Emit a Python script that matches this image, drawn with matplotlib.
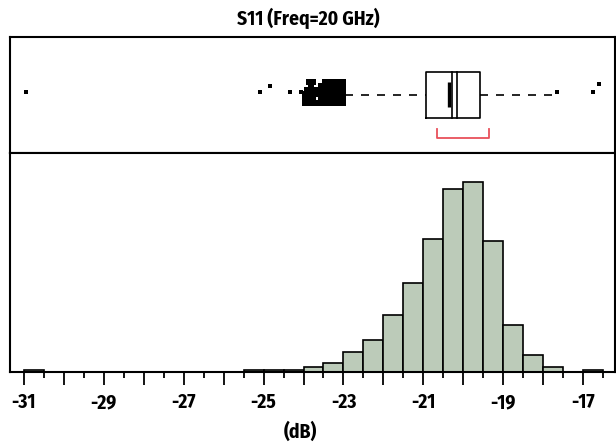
import matplotlib
matplotlib.use("Agg")
import matplotlib.pyplot as plt

plt.rcParams['font.family'] = ['Fira Sans Condensed', 'PT Sans Narrow', 'DejaVu Sans']
plt.rcParams['font.weight'] = 'bold'

# 直方图 (0.5 dB bins, left edges)
bin_left = [-31.0, -25.5, -25.0, -24.5, -24.0, -23.5, -23.0, -22.5, -22.0, -21.5,
            -21.0, -20.5, -20.0, -19.5, -19.0, -18.5, -18.0, -17.0]
counts = [3, 3, 3, 3, 6, 12, 26, 42, 76, 119, 177, 244, 253, 174, 63, 23, 6, 3]

# 箱线图统计量
q1, q3 = -20.93, -19.57
median = -20.15
mean = -20.27
mean_ci = -20.36
whisker_lo, whisker_hi = -22.95, -17.72
shortest_half = (-20.66, -19.36)

# 离群点 (value, jitter)
outlier_x = [-30.96, -25.09, -24.85, -24.33, -24.06, -17.64, -16.76, -16.61]
outlier_y = [0.528, 0.528, 0.58, 0.528, 0.528, 0.528, 0.528, 0.597]

# 密集离群点 (-24 ~ -23)
blob_rows = {
    0.61: [-23.86, -23.76, -23.46, -23.36, -23.26, -23.16, -23.06, -23.0],
    0.575: [-23.81, -23.56, -23.46, -23.36, -23.26, -23.16, -23.06, -23.0],
    0.54: [-23.91, -23.81, -23.71, -23.56, -23.46, -23.36, -23.26, -23.16, -23.06, -23.0],
    0.505: [-23.96, -23.86, -23.76, -23.66, -23.56, -23.46, -23.36, -23.26, -23.16, -23.06, -23.0],
    0.47: [-23.96, -23.86, -23.76, -23.56, -23.46, -23.36, -23.26, -23.16, -23.06, -23.0],
    0.435: [-23.96, -23.86, -23.76, -23.66, -23.56, -23.46, -23.36, -23.26, -23.16, -23.06, -23.0],
}

major_ticks = list(range(-31, -16))
minor_ticks = [t + 0.5 for t in range(-31, -16)]
label_ticks = [-31, -29, -27, -25, -23, -21, -19, -17]

xlim = (-31.35, -16.2)
W, H = 616, 448
fig = plt.figure(figsize=(W / 100, H / 100), dpi=100)

left, right = 10 / W, 615 / W
y_top, y_div, y_bot = 1 - 37 / H, 1 - 153 / H, 1 - 372 / H

ax_box = fig.add_axes([left, y_div, right - left, y_top - y_div])
ax_hist = fig.add_axes([left, y_bot, right - left, y_div - y_bot])

lw = 1.2
for ax in (ax_box, ax_hist):
    ax.set_xlim(*xlim)
    for s in ax.spines.values():
        s.set_linewidth(1.5)
        s.set_color('black')

# ---- box plot panel ----
ax_box.set_ylim(0, 1)
ax_box.set_xticks([])
ax_box.set_yticks([])

yc = 0.504
b_lo, b_hi = 0.30, 0.70
ax_box.plot([q1, q3, q3, q1, q1], [b_lo, b_lo, b_hi, b_hi, b_lo], color='black', lw=lw)
ax_box.plot([median, median], [b_lo, b_hi], color='black', lw=lw)
ax_box.plot([mean, mean], [b_lo, b_hi], color='black', lw=lw)
ax_box.plot([mean_ci, mean_ci], [0.40, 0.61], color='black', lw=2.4, solid_capstyle='butt')
ax_box.plot([whisker_lo, q1], [yc, yc], color='black', lw=lw, linestyle=(0, (4.8, 4.8)))
ax_box.plot([q3, whisker_hi], [yc, yc], color='black', lw=lw, linestyle=(0, (4.8, 4.8)))

ax_box.plot(outlier_x, outlier_y, 's', color='black', markersize=3.0, markeredgewidth=0)
for yv, xs in blob_rows.items():
    ax_box.plot(xs, [yv] * len(xs), 's', color='black', markersize=3.9, markeredgewidth=0)

sh0, sh1 = shortest_half
ax_box.plot([sh0, sh0, sh1, sh1], [0.207, 0.127, 0.127, 0.207], color='#e8505b', lw=1.3)

# ---- histogram panel ----
ax_hist.bar(bin_left, counts, width=0.5, align='edge', color='#bccbb9',
            edgecolor='black', linewidth=1.2)
ax_hist.set_ylim(0, 253 * 219 / 190)
ax_hist.set_yticks([])
ax_hist.set_xticks(major_ticks)
ax_hist.set_xticks(minor_ticks, minor=True)
ax_hist.set_xticklabels([str(t) if t in label_ticks else '' for t in major_ticks])
ax_hist.tick_params(axis='x', which='major', length=9, width=1.3, pad=6, labelsize=14)
ax_hist.tick_params(axis='x', which='minor', length=4.5, width=1.3)

fig.text(300.5 / W, 1 - 432 / H, '(dB)', ha='center', va='center', fontsize=14, fontweight='bold')
fig.text(308 / W, 1 - 18 / H, 'S11 (Freq=20 GHz)', ha='center', va='center', fontsize=14,
         fontweight='bold')

fig.savefig('out.png', dpi=100)
